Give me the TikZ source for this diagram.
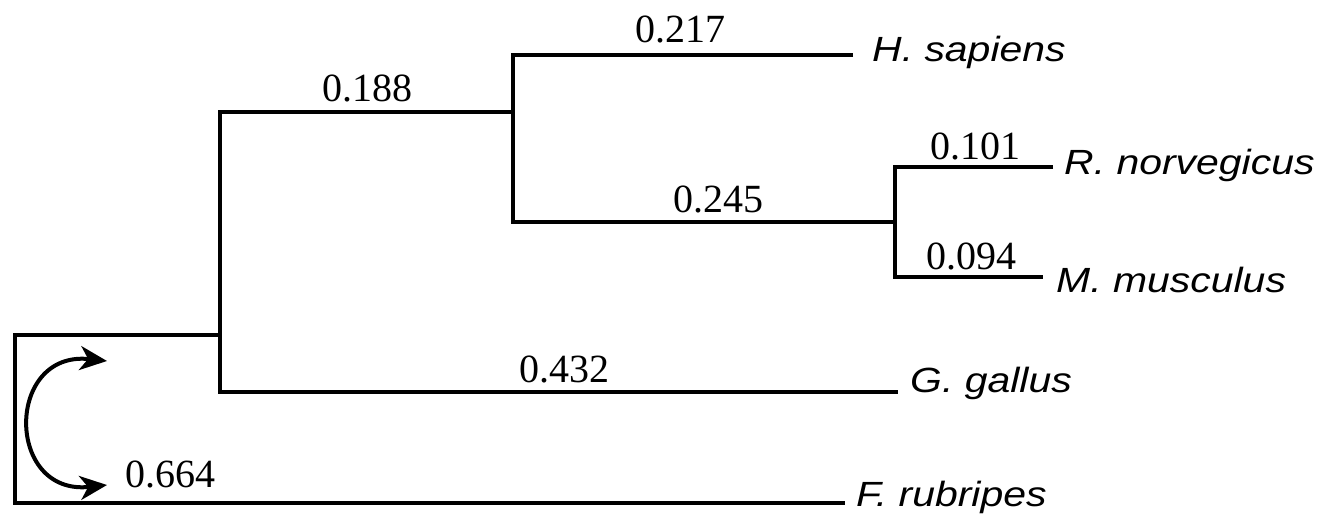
\documentclass[tikz,border=0pt]{standalone}
\usepackage{fontspec}
\setmainfont{Liberation Serif}
\newfontfamily\taxonfont[FakeStretch=1.17]{Liberation Sans}
\usetikzlibrary{arrows.meta}
\begin{document}
\begin{tikzpicture}[x=1pt,y=-1pt,
  branch/.style={line width=4.8pt, line join=miter},
  blen/.style={anchor=base, inner sep=0pt, font=\fontsize{40}{40}\selectfont},
  taxon/.style={anchor=base west, inner sep=0pt, font=\taxonfont\itshape\fontsize{35}{35}\selectfont},
  swing/.style={line width=4pt, >={Stealth[length=27pt,width=24pt,inset=8pt]}, <->}]
\useasboundingbox (0,0) rectangle (1330,521);

% internal nodes of the tree
\coordinate (root) at (15,420);
\coordinate (A) at (220,335);
\coordinate (B) at (513,112);
\coordinate (C) at (895,222);

% tips of the branches
\coordinate (hs-end) at (853,55);
\coordinate (rn-end) at (1053,167);
\coordinate (mm-end) at (1043,277);
\coordinate (gg-end) at (898,392);
\coordinate (fr-end) at (845,503);

% taxon names
\node[taxon] (hs) at (872,62)   {H. sapiens};
\node[taxon] (rn) at (1064,175) {R. norvegicus};
\node[taxon] (mm) at (1056,293) {M. musculus};
\node[taxon] (gg) at (910,392)  {G. gallus};
\node[taxon] (fr) at (856,506)  {F. rubripes};

% branches
\draw[branch] (A) -| (root) |- (fr-end);
\draw[branch] (B) -| (A) |- (gg-end);
\draw[branch] (hs-end) -| (B) |- (C);
\draw[branch] (rn-end) -| (C) |- (mm-end);

% branch lengths
\node[blen] (l217) at (680,43)  {0.217};
\node[blen] (l188) at (367,102) {0.188};
\node[blen] (l245) at (718,213) {0.245};
\node[blen] (l101) at (975,160) {0.101};
\node[blen] (l094) at (971,270) {0.094};
\node[blen] (l432) at (564,382) {0.432};
\node[blen] (l664) at (170,487) {0.664};

% rotation arrow at the root
\coordinate (arr-top) at (107,361);
\coordinate (arr-bot) at (107,485);
\draw[swing] (arr-top) .. controls (5,350) and (5,496) .. (arr-bot);
\end{tikzpicture}
\end{document}
